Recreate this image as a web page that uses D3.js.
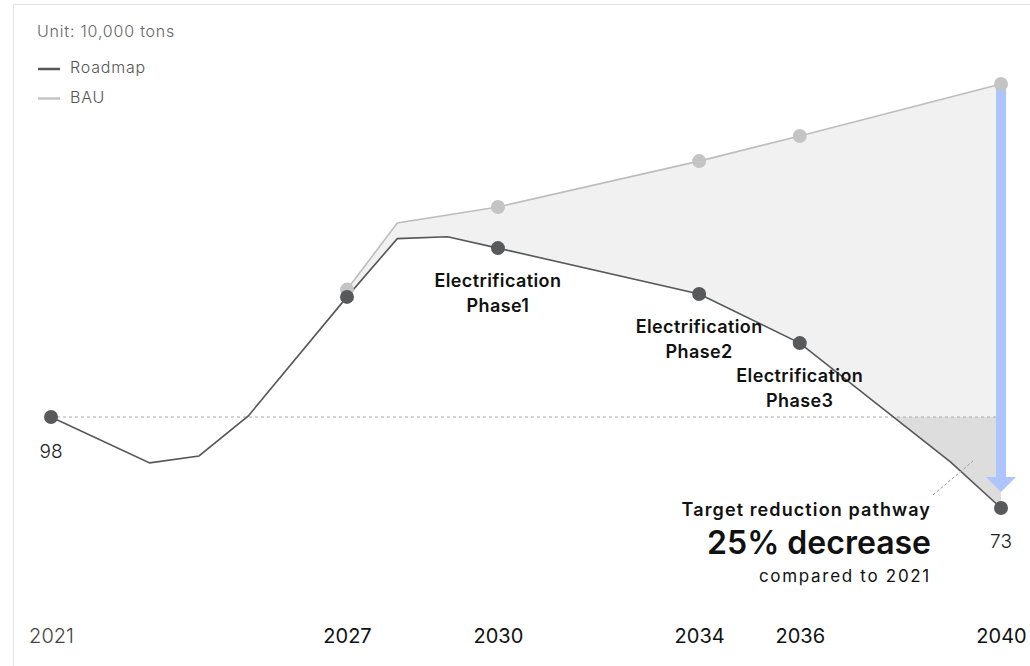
<!DOCTYPE html>
<html><head><meta charset="utf-8">
<script src="https://cdn.jsdelivr.net/npm/d3@7"></script>
<style>
html,body{margin:0;padding:0;background:#fff;}
svg{display:block;font-family:Inter, "Noto Sans", sans-serif;}
</style></head>
<body>
<svg id="c" width="1030" height="666"></svg>
<script>
// ---- data ----
const roadmapYears = [2021, 2023, 2024, 2025, 2027, 2028, 2029, 2030, 2034, 2036, 2039, 2040];
const roadmapValues = [98, 85.4, 87.3, 98.3, 131, 147, 147.5, 144.4, 131.8, 118.3, 85.6, 73];
const roadmapDotYears = [2021, 2027, 2030, 2034, 2036, 2040];
const bauYears = [2027, 2028, 2030, 2034, 2036, 2040];
const bauValues = [133, 151.3, 155.7, 168.3, 175.2, 189.5];
const bauDotYears = [2027, 2030, 2034, 2036, 2040];
const tickYears = [2021, 2027, 2030, 2034, 2036, 2040];
const baseValue = 98;
const endValue = 73;
const phaseLabels = [
  {year: 2030, lines: ["Electrification", "Phase1"]},
  {year: 2034, lines: ["Electrification", "Phase2"]},
  {year: 2036, lines: ["Electrification", "Phase3"]}
];
const unitLabel = "Unit: 10,000 tons";
const legendItems = [{name: "Roadmap", color: "#555759"}, {name: "BAU", color: "#c4c4c4"}];
const annotationLines = ["Target reduction pathway", "25% decrease", "compared to 2021"];

// ---- scales ----
const svg = d3.select("#c");
const x = d3.scaleLinear().domain([2021, 2027, 2040]).range([51, 347, 1001]);
const y = d3.scaleLinear().domain([73, 98]).range([508, 417]);

const roadmap = roadmapYears.map((yr, i) => ({yr, v: roadmapValues[i]}));
const bau = bauYears.map((yr, i) => ({yr, v: bauValues[i]}));
const rmVal = yr => roadmap.find(d => d.yr === yr).v;
const bauVal = yr => bau.find(d => d.yr === yr).v;

// frame
svg.append("path").attr("d", "M13.5,666 V4.5 H1030").attr("fill", "none").attr("stroke", "#e4e4e4").attr("stroke-width", 1);

// ---- fills ----
const poly = bau.concat(roadmap.filter(d => d.yr >= 2027).slice().reverse());
const polyLine = d3.line().x(d => x(d.yr)).y(d => y(d.v));
const defs = svg.append("defs");
defs.append("clipPath").attr("id", "below")
  .append("rect").attr("x", x(2030)).attr("y", y(baseValue)).attr("width", 1030).attr("height", 300);
svg.append("path").attr("d", polyLine(poly) + "Z").attr("fill", "#f0f1f0");
svg.append("path").attr("d", polyLine(poly) + "Z").attr("fill", "#dcdddc").attr("clip-path", "url(#below)");

// baseline dashed
svg.append("line").attr("x1", x(2021)).attr("x2", x(2040)).attr("y1", y(baseValue)).attr("y2", y(baseValue))
  .attr("stroke", "#aaaaaa").attr("stroke-width", 1).attr("stroke-dasharray", "3,3");

// lines
svg.append("path").attr("d", polyLine(bau)).attr("fill", "none").attr("stroke", "#bdbdbd").attr("stroke-width", 1.6);
svg.append("path").attr("d", polyLine(roadmap)).attr("fill", "none").attr("stroke", "#555759").attr("stroke-width", 1.6);

// arrow
const ax = x(2040);
const aTop = y(bauVal(2040));
const aTip = y(endValue) - 16;
svg.append("rect").attr("x", ax - 5).attr("y", aTop).attr("width", 10).attr("height", aTip - 14 - aTop).attr("fill", "#adc5fc");
svg.append("path").attr("d", `M${ax-15},${aTip-15} L${ax+15},${aTip-15} L${ax},${aTip} Z`).attr("fill", "#adc5fc");

// dots
svg.selectAll(".bd").data(bauDotYears).enter().append("circle")
  .attr("cx", d => x(d)).attr("cy", d => y(bauVal(d))).attr("r", 7).attr("fill", "#c4c4c4");
svg.selectAll(".rd").data(roadmapDotYears).enter().append("circle")
  .attr("cx", d => x(d)).attr("cy", d => y(rmVal(d))).attr("r", 7).attr("fill", "#58595b");

// phase labels
phaseLabels.forEach(p => {
  const t = svg.append("text").attr("text-anchor", "middle").attr("font-size", 18).attr("font-weight", 600)
    .attr("letter-spacing", 0.4).attr("fill", "#111");
  p.lines.forEach((l, i) => {
    t.append("tspan").attr("x", x(p.year)).attr("y", y(rmVal(p.year)) + 39 + i * 25).text(l);
  });
});

// value labels
svg.append("text").attr("x", x(2021)).attr("y", y(baseValue) + 41).attr("text-anchor", "middle")
  .attr("font-size", 19).attr("font-weight", 300).attr("fill", "#222").text(baseValue);
svg.append("text").attr("x", x(2040)).attr("y", y(endValue) + 40).attr("text-anchor", "middle")
  .attr("font-size", 19).attr("font-weight", 300).attr("fill", "#222").text(endValue);

// annotation
svg.append("line").attr("x1", 933).attr("y1", 495).attr("x2", 973).attr("y2", 461)
  .attr("stroke", "#999").attr("stroke-width", 1).attr("stroke-dasharray", "3,2");
svg.append("text").attr("x", 931).attr("y", 516).attr("text-anchor", "end").attr("font-size", 18).attr("font-weight", 600)
  .attr("letter-spacing", 1.1).attr("fill", "#111").text(annotationLines[0]);
svg.append("text").attr("x", 931).attr("y", 554).attr("text-anchor", "end").attr("font-size", 32).attr("font-weight", 600)
  .attr("fill", "#111").text(annotationLines[1]);
svg.append("text").attr("x", 931).attr("y", 582).attr("text-anchor", "end").attr("font-size", 17).attr("font-weight", 400)
  .attr("letter-spacing", 1.7).attr("fill", "#111").text(annotationLines[2]);

// unit + legend
svg.append("text").attr("x", 37).attr("y", 37).attr("font-size", 16).attr("font-weight", 300)
  .attr("letter-spacing", 0.8).attr("fill", "#666").text(unitLabel);
legendItems.forEach((d, i) => {
  const ly = 69 + i * 29.5;
  svg.append("line").attr("x1", 38).attr("x2", 60).attr("y1", ly).attr("y2", ly).attr("stroke", d.color).attr("stroke-width", 2.5);
  svg.append("text").attr("x", 70).attr("y", ly + 4).attr("font-size", 16).attr("font-weight", 300)
    .attr("letter-spacing", 0.8).attr("fill", "#555").text(d.name);
});

// x axis
const axis = svg.append("g").attr("transform", "translate(0,626)")
  .call(d3.axisBottom(x).tickValues(tickYears).tickFormat(d3.format("d")).tickSize(0));
axis.select(".domain").remove();
axis.selectAll("text").attr("font-family", "Inter, 'Noto Sans', sans-serif").attr("font-size", 20)
  .attr("fill", d => d === 2021 ? "#444" : "#111").attr("font-weight", d => d === 2021 ? 300 : 400);
</script>
</body></html>
